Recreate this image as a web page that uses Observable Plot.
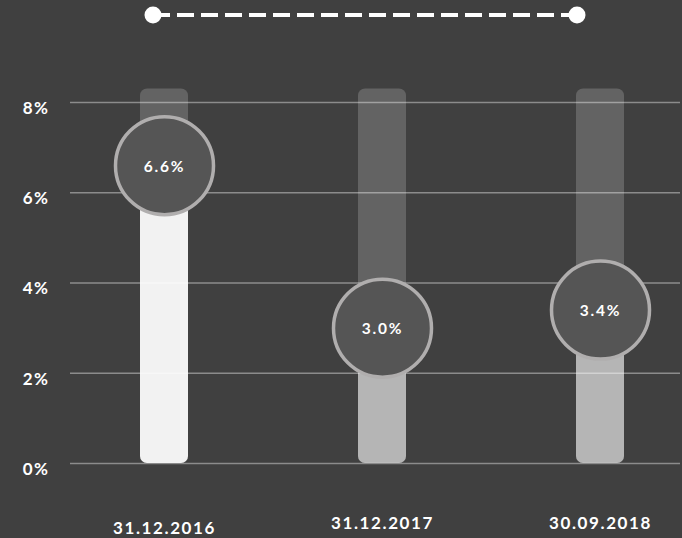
<!DOCTYPE html>
<html>
<head>
<meta charset="utf-8">
<script src="https://cdn.jsdelivr.net/npm/d3@7"></script>
<script src="https://cdn.jsdelivr.net/npm/@observablehq/plot@0.6"></script>
<style>
  html, body { margin: 0; padding: 0; background: #404040; }
  #wrap { width: 682px; height: 538px; background: #404040; overflow: hidden; }
  #legend { display: block; }
  svg { font-family: Lato, "Open Sans", sans-serif; }
</style>
</head>
<body>
<div id="wrap">
  <div id="legendBox"></div>
  <div id="chart"></div>
</div>
<script>
// ---- data ----
const dates = ["31.12.2016", "31.12.2017", "30.09.2018"];
const values = [6.6, 3.0, 3.4];
const trackMax = 8.3;
const yTicks = [0, 2, 4, 6, 8];

const rows = dates.map((d, i) => ({date: d, value: values[i], track: trackMax, first: i === 0}));

// ---- legend (decorative dashed line with end dots) ----
const lg = d3.select("#legendBox").append("svg")
  .attr("id", "legend").attr("width", 682).attr("height", 35);
lg.append("line").attr("x1", 153).attr("x2", 577).attr("y1", 15).attr("y2", 15)
  .attr("stroke", "#fff").attr("stroke-width", 4).attr("stroke-dasharray", "17,7");
lg.append("circle").attr("cx", 153).attr("cy", 15).attr("r", 8.5).attr("fill", "#fff");
lg.append("circle").attr("cx", 577).attr("cy", 15).attr("r", 8.5).attr("fill", "#fff");

// ---- chart ----
const chart = Plot.plot({
  width: 682,
  height: 503,
  marginTop: 67,
  marginBottom: 75,
  marginLeft: 70,
  marginRight: 2,
  style: {background: "#404040", color: "#fff", fontFamily: "Lato, sans-serif"},
  x: {type: "band", domain: dates, range: [139, 624], paddingInner: 0.78, paddingOuter: 0, axis: null},
  y: {domain: [0, 8], axis: null},
  marks: [
    Plot.barY(rows, {x: "date", y1: 0, y2: "track", fill: "#636363", rx: 7}),
    Plot.barY(rows, {x: "date", y1: 0, y2: "value", fill: d => d.first ? "#f2f2f2" : "#b5b5b5", rx: 7}),
    Plot.ruleY(yTicks, {stroke: "#fff", strokeOpacity: 0.4, strokeWidth: 1.5}),
    Plot.text(yTicks, {y: d => d, frameAnchor: "left", dx: -21, dy: 6, text: d => d + "%",
      textAnchor: "end", fill: "#fff", fontSize: 17, fontWeight: "bold", className: "ylab"}),
    Plot.dot(rows, {x: "date", y: "value", r: 49, fill: "#555555", stroke: "#b0aeae", strokeWidth: 3.5}),
    Plot.text(rows, {x: "date", y: "value", text: d => d.value.toFixed(1) + "%", fill: "#fff", dy: 1,
      fontSize: 15.5, fontWeight: "bold", className: "vlab"}),
    Plot.text(rows.filter(d => d.first), {x: "date", y: 0, text: "date", dy: 65, fill: "#fff", fontSize: 17, fontWeight: "bold", className: "xlab"}),
    Plot.text(rows.filter(d => !d.first), {x: "date", y: 0, text: "date", dy: 60, fill: "#fff", fontSize: 17, fontWeight: "bold", className: "xlab"})
  ]
});
document.getElementById("chart").appendChild(chart);
d3.select(chart).selectAll(".xlab text").style("letter-spacing", "1.6px");
d3.select(chart).selectAll(".vlab text").style("letter-spacing", "1.8px");
d3.select(chart).selectAll(".ylab text").style("letter-spacing", "1.5px");
</script>
</body>
</html>
